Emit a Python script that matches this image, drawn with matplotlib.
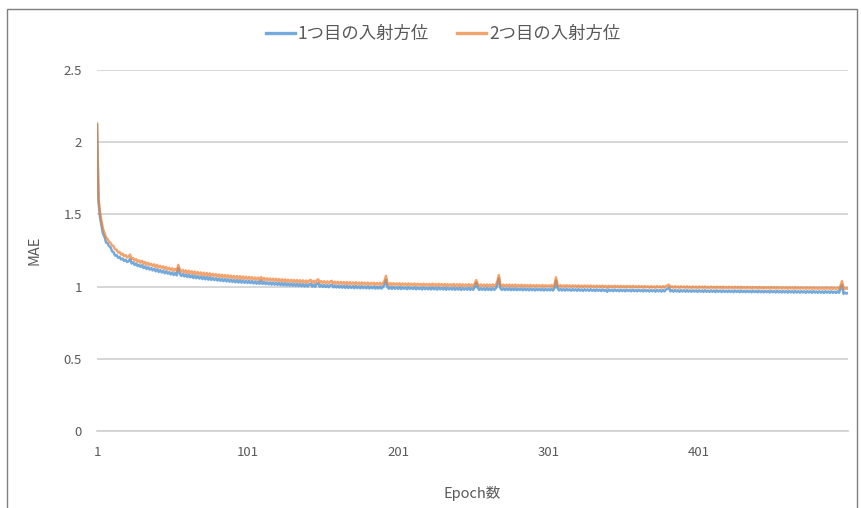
import numpy as np
import matplotlib.pyplot as plt
from matplotlib.patches import Rectangle

plt.rcParams['font.family'] = ['Noto Sans CJK JP', 'DejaVu Sans']

# MAE per epoch for the two incident directions
mae_1 = [
    2.120, 1.590, 1.480, 1.420, 1.365, 1.345, 1.305, 1.300, 1.280, 1.272, 1.245, 1.238, 1.215, 1.218, 1.200, 1.206, 1.188, 1.194, 1.178, 1.186,
    1.170, 1.176, 1.192, 1.160, 1.168, 1.150, 1.160, 1.142, 1.152, 1.136, 1.148, 1.128, 1.140, 1.122, 1.134, 1.118, 1.128, 1.112, 1.124, 1.106,
    1.120, 1.102, 1.114, 1.098, 1.110, 1.092, 1.106, 1.090, 1.100, 1.084, 1.098, 1.080, 1.094, 1.078, 1.128, 1.090, 1.074, 1.088, 1.070, 1.084,
    1.066, 1.082, 1.064, 1.078, 1.060, 1.076, 1.058, 1.072, 1.056, 1.070, 1.052, 1.068, 1.050, 1.066, 1.048, 1.064, 1.046, 1.060, 1.045, 1.058,
    1.042, 1.056, 1.040, 1.054, 1.038, 1.052, 1.036, 1.050, 1.034, 1.048, 1.032, 1.046, 1.030, 1.045, 1.028, 1.044, 1.027, 1.042, 1.026, 1.040,
    1.025, 1.040, 1.024, 1.038, 1.022, 1.036, 1.020, 1.035, 1.019, 1.042, 1.018, 1.033, 1.017, 1.030, 1.016, 1.029, 1.014, 1.028, 1.013, 1.027,
    1.012, 1.026, 1.010, 1.025, 1.009, 1.024, 1.008, 1.022, 1.007, 1.021, 1.006, 1.020, 1.005, 1.019, 1.004, 1.018, 1.003, 1.017, 1.002, 1.016,
    1.001, 1.015, 1.020, 1.000, 1.014, 0.999, 1.018, 1.024, 1.000, 1.012, 0.998, 1.011, 0.997, 1.010, 0.996, 1.009, 1.014, 0.995, 1.008, 0.994,
    1.007, 0.993, 1.006, 0.992, 1.005, 0.991, 1.006, 0.990, 1.004, 0.991, 1.003, 0.989, 1.004, 0.990, 1.002, 0.988, 1.003, 0.989, 1.001, 0.988,
    1.002, 0.987, 1.000, 0.988, 1.001, 0.986, 0.999, 0.987, 1.000, 0.986, 0.998, 1.012, 1.048, 0.997, 0.985, 0.998, 0.984, 0.997, 0.985, 0.996,
    0.984, 0.997, 0.983, 0.996, 0.985, 0.995, 0.982, 0.996, 0.984, 0.994, 0.983, 0.995, 0.981, 0.994, 0.983, 0.993, 0.980, 0.994, 0.982, 0.992,
    0.981, 0.993, 0.980, 0.994, 0.981, 0.992, 0.979, 0.993, 0.981, 0.991, 0.980, 0.992, 0.978, 0.991, 0.980, 0.990, 0.979, 0.992, 0.978, 0.990,
    0.979, 0.991, 0.977, 0.990, 0.979, 0.989, 0.978, 0.991, 0.977, 0.989, 0.978, 0.996, 1.028, 0.992, 0.977, 0.989, 0.978, 0.988, 0.976, 0.989,
    0.977, 0.988, 0.976, 0.989, 0.978, 0.987, 1.012, 1.058, 0.990, 0.977, 0.988, 0.976, 0.987, 0.977, 0.988, 0.975, 0.987, 0.976, 0.988, 0.975,
    0.986, 0.976, 0.987, 0.974, 0.986, 0.975, 0.985, 0.974, 0.986, 0.975, 0.984, 0.973, 0.985, 0.975, 0.984, 0.974, 0.985, 0.973, 0.984, 0.974,
    0.983, 0.974, 0.985, 0.973, 0.990, 1.042, 0.990, 0.974, 0.984, 0.973, 0.983, 0.972, 0.984, 0.974, 0.982, 0.971, 0.983, 0.973, 0.982, 0.971,
    0.983, 0.972, 0.981, 0.970, 0.982, 0.972, 0.981, 0.970, 0.982, 0.971, 0.980, 0.969, 0.981, 0.971, 0.980, 0.969, 0.981, 0.970, 0.979, 0.964,
    0.980, 0.970, 0.979, 0.968, 0.980, 0.970, 0.978, 0.968, 0.979, 0.969, 0.978, 0.967, 0.979, 0.969, 0.978, 0.967, 0.979, 0.968, 0.977, 0.967,
    0.978, 0.968, 0.977, 0.966, 0.978, 0.968, 0.976, 0.966, 0.977, 0.967, 0.976, 0.965, 0.977, 0.967, 0.976, 0.965, 0.977, 0.966, 0.978, 0.985,
    0.992, 0.967, 0.976, 0.965, 0.977, 0.966, 0.975, 0.964, 0.976, 0.966, 0.975, 0.964, 0.976, 0.965, 0.974, 0.964, 0.975, 0.965, 0.974, 0.963,
    0.975, 0.965, 0.974, 0.963, 0.975, 0.964, 0.973, 0.963, 0.974, 0.964, 0.973, 0.962, 0.974, 0.964, 0.973, 0.962, 0.974, 0.963, 0.972, 0.962,
    0.973, 0.963, 0.972, 0.961, 0.973, 0.963, 0.972, 0.961, 0.973, 0.962, 0.971, 0.961, 0.972, 0.962, 0.971, 0.960, 0.972, 0.962, 0.971, 0.960,
    0.972, 0.961, 0.970, 0.960, 0.971, 0.961, 0.970, 0.959, 0.971, 0.961, 0.970, 0.959, 0.971, 0.960, 0.969, 0.959, 0.970, 0.960, 0.969, 0.958,
    0.970, 0.960, 0.969, 0.958, 0.970, 0.959, 0.968, 0.958, 0.969, 0.959, 0.968, 0.957, 0.969, 0.959, 0.968, 0.957, 0.969, 0.958, 0.967, 0.957,
    0.968, 0.958, 0.967, 0.956, 0.968, 0.958, 0.967, 0.956, 0.968, 0.957, 0.966, 0.956, 0.967, 0.957, 0.988, 1.012, 0.950, 0.958, 0.952, 0.956,
]

mae_2 = [
    2.130, 1.610, 1.515, 1.450, 1.400, 1.372, 1.340, 1.330, 1.310, 1.303, 1.285, 1.280, 1.258, 1.256, 1.236, 1.240, 1.222, 1.228, 1.210, 1.218,
    1.202, 1.208, 1.222, 1.190, 1.198, 1.180, 1.190, 1.172, 1.182, 1.166, 1.178, 1.158, 1.170, 1.152, 1.164, 1.148, 1.158, 1.142, 1.154, 1.136,
    1.150, 1.132, 1.144, 1.128, 1.140, 1.122, 1.136, 1.118, 1.130, 1.114, 1.127, 1.110, 1.123, 1.107, 1.150, 1.118, 1.102, 1.116, 1.098, 1.112,
    1.094, 1.110, 1.092, 1.106, 1.088, 1.104, 1.086, 1.100, 1.084, 1.098, 1.080, 1.096, 1.078, 1.094, 1.076, 1.092, 1.074, 1.088, 1.073, 1.086,
    1.070, 1.084, 1.068, 1.082, 1.066, 1.080, 1.064, 1.078, 1.062, 1.076, 1.060, 1.074, 1.058, 1.073, 1.056, 1.072, 1.055, 1.070, 1.054, 1.068,
    1.053, 1.067, 1.052, 1.065, 1.050, 1.063, 1.048, 1.062, 1.047, 1.066, 1.046, 1.060, 1.045, 1.057, 1.044, 1.056, 1.042, 1.055, 1.041, 1.054,
    1.039, 1.052, 1.037, 1.051, 1.036, 1.050, 1.035, 1.048, 1.034, 1.047, 1.033, 1.046, 1.032, 1.045, 1.031, 1.044, 1.030, 1.043, 1.029, 1.042,
    1.028, 1.041, 1.046, 1.027, 1.040, 1.026, 1.044, 1.050, 1.027, 1.038, 1.025, 1.037, 1.024, 1.036, 1.023, 1.035, 1.040, 1.022, 1.034, 1.021,
    1.033, 1.020, 1.032, 1.019, 1.031, 1.018, 1.032, 1.017, 1.030, 1.018, 1.029, 1.016, 1.030, 1.017, 1.028, 1.015, 1.029, 1.016, 1.027, 1.015,
    1.028, 1.014, 1.026, 1.015, 1.027, 1.013, 1.025, 1.014, 1.026, 1.013, 1.024, 1.038, 1.075, 1.023, 1.012, 1.024, 1.011, 1.023, 1.012, 1.022,
    1.011, 1.023, 1.010, 1.022, 1.012, 1.021, 1.009, 1.022, 1.011, 1.020, 1.010, 1.021, 1.008, 1.020, 1.010, 1.019, 1.007, 1.020, 1.009, 1.018,
    1.008, 1.019, 1.007, 1.020, 1.008, 1.018, 1.006, 1.019, 1.008, 1.017, 1.007, 1.018, 1.005, 1.017, 1.007, 1.016, 1.006, 1.018, 1.005, 1.016,
    1.006, 1.017, 1.004, 1.016, 1.006, 1.015, 1.005, 1.017, 1.004, 1.015, 1.005, 1.020, 1.045, 1.016, 1.004, 1.015, 1.005, 1.014, 1.003, 1.015,
    1.004, 1.014, 1.003, 1.015, 1.005, 1.013, 1.036, 1.080, 1.014, 1.004, 1.014, 1.003, 1.013, 1.004, 1.014, 1.002, 1.013, 1.003, 1.014, 1.002,
    1.012, 1.003, 1.013, 1.001, 1.012, 1.002, 1.011, 1.001, 1.012, 1.002, 1.010, 1.000, 1.011, 1.002, 1.010, 1.001, 1.011, 1.000, 1.010, 1.001,
    1.009, 1.001, 1.011, 1.000, 1.014, 1.064, 1.012, 1.001, 1.010, 1.000, 1.009, 0.999, 1.010, 1.001, 1.008, 0.998, 1.009, 1.000, 1.008, 0.998,
    1.009, 0.999, 1.007, 0.997, 1.008, 0.999, 1.007, 0.997, 1.008, 0.998, 1.006, 0.996, 1.007, 0.998, 1.006, 0.996, 1.007, 0.997, 1.005, 0.993,
    1.006, 0.997, 1.005, 0.995, 1.006, 0.997, 1.004, 0.995, 1.005, 0.996, 1.004, 0.994, 1.005, 0.996, 1.004, 0.994, 1.005, 0.995, 1.003, 0.994,
    1.004, 0.995, 1.003, 0.993, 1.004, 0.995, 1.002, 0.993, 1.003, 0.994, 1.002, 0.992, 1.003, 0.994, 1.002, 0.992, 1.003, 0.993, 1.004, 1.008,
    1.014, 0.994, 1.002, 0.992, 1.003, 0.993, 1.001, 0.991, 1.002, 0.993, 1.001, 0.991, 1.002, 0.992, 1.000, 0.991, 1.001, 0.992, 1.000, 0.990,
    1.001, 0.992, 1.000, 0.990, 1.001, 0.991, 0.999, 0.990, 1.000, 0.991, 0.999, 0.989, 1.000, 0.991, 0.999, 0.989, 1.000, 0.990, 0.998, 0.989,
    0.999, 0.990, 0.998, 0.988, 0.999, 0.990, 0.998, 0.988, 0.999, 0.989, 0.997, 0.988, 0.998, 0.989, 0.997, 0.987, 0.998, 0.989, 0.997, 0.987,
    0.998, 0.988, 0.996, 0.987, 0.997, 0.988, 0.996, 0.986, 0.997, 0.988, 0.996, 0.986, 0.997, 0.987, 0.995, 0.986, 0.996, 0.987, 0.995, 0.985,
    0.996, 0.987, 0.995, 0.985, 0.996, 0.986, 0.994, 0.985, 0.995, 0.986, 0.994, 0.984, 0.995, 0.986, 0.994, 0.984, 0.995, 0.985, 0.993, 0.984,
    0.994, 0.985, 0.993, 0.983, 0.994, 0.985, 0.993, 0.983, 0.994, 0.984, 0.992, 0.983, 0.993, 0.984, 1.004, 1.038, 0.992, 0.982, 0.990, 0.984,
]

series_names = ['1つ目の入射方位', '2つ目の入射方位']
x_ticks = [1, 101, 201, 301, 401]
y_ticks = [0, 0.5, 1, 1.5, 2, 2.5]

epochs = np.arange(1, len(mae_1) + 1)
text_col = '#595959'
grid_col = '#D0D0D0'

fig = plt.figure(figsize=(8.62, 5.08), dpi=100)
ax = fig.add_axes([97 / 862, 1 - 431 / 508, 751 / 862, 361 / 508])

# chart border
fig.patches.append(Rectangle((7.5 / 862, -0.05), 850 / 862, 1.05 - 9 / 508,
                             transform=fig.transFigure, fill=False,
                             edgecolor='#7F7F7F', lw=1.0))

ax.plot(epochs, mae_1, color='#5B9BD5', lw=1.8, alpha=0.85, label=series_names[0],
        solid_joinstyle='round')
ax.plot(epochs, mae_2, color='#ED7D31', lw=1.8, alpha=0.7, label=series_names[1],
        solid_joinstyle='round')

ax.set_xlim(1, len(mae_1))
ax.set_ylim(0, 2.5)
ax.set_xticks(x_ticks)
ax.set_yticks(y_ticks)
ax.set_yticklabels(['0', '0.5', '1', '1.5', '2', '2.5'])
ax.yaxis.grid(True, color=grid_col, lw=1.2)
ax.set_axisbelow(True)
for s in ['top', 'right', 'left']:
    ax.spines[s].set_visible(False)
ax.spines['bottom'].set_color(grid_col)
ax.spines['bottom'].set_linewidth(1.2)
ax.tick_params(length=0, labelsize=9.5, colors=text_col)
ax.tick_params(axis='y', pad=11)
ax.tick_params(axis='x', pad=11)

ax.set_ylabel('MAE', fontsize=10.5, color=text_col, labelpad=16)
ax.set_xlabel('Epoch数', fontsize=10.5, color=text_col, labelpad=19)

leg = fig.legend(loc='center', bbox_to_anchor=(443 / 862, 1 - 34 / 508), ncol=2,
                 frameon=False, fontsize=12.5, handlelength=1.7, handletextpad=0.15,
                 columnspacing=1.6)
for t in leg.get_texts():
    t.set_color(text_col)
for h in leg.get_lines():
    h.set_linewidth(2.4)

fig.savefig('out.png', dpi=100)
